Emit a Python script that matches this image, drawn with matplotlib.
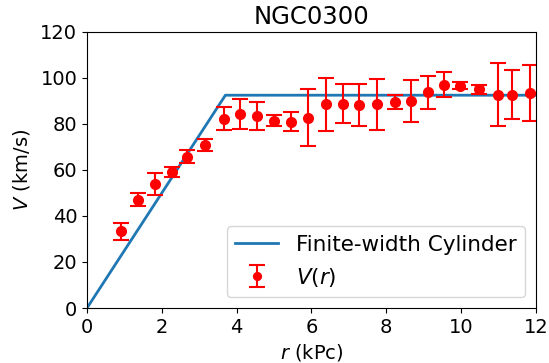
import matplotlib
matplotlib.use("Agg")
import matplotlib.pyplot as plt

# Observed rotation curve
r_obs = [0.90, 1.37, 1.81, 2.28, 2.68, 3.16, 3.65, 4.08, 4.55, 5.00, 5.45, 5.91,
         6.38, 6.84, 7.28, 7.75, 8.23, 8.66, 9.12, 9.55, 9.98, 10.49, 11.00, 11.35, 11.85]
v_obs = [33.3, 47.0, 54.0, 59.2, 65.8, 70.8, 82.3, 84.5, 83.5, 81.5, 81.0, 82.8,
         88.5, 88.8, 88.3, 88.5, 89.5, 90.0, 93.8, 97.0, 96.7, 95.0, 92.8, 92.8, 93.5]
v_err = [3.8, 2.8, 4.7, 2.2, 2.7, 2.5, 4.9, 6.5, 6.2, 2.5, 4.0, 12.4,
         11.6, 8.4, 9.0, 11.0, 3.0, 9.3, 7.2, 5.4, 1.6, 2.1, 13.8, 10.7, 12.2]

# Model curve
r_model = [0.0, 3.7, 12.0]
v_model = [0.0, 92.5, 92.5]

plt.rcParams['font.size'] = 14
fig = plt.figure(figsize=(5.49, 3.63), dpi=100)
ax = fig.add_axes([0.1585, 0.1515, 0.8175, 0.7605])

ax.plot(r_model, v_model, color='#1f77b4', lw=2, label='Finite-width Cylinder')
ax.errorbar(r_obs, v_obs, yerr=v_err, fmt='o', color='red', ms=7,
            elinewidth=1.5, capsize=6, capthick=1.5, label='$V(r)$')

ax.set_xlim(0, 12)
ax.set_ylim(0, 120)
ax.set_xticks(range(0, 13, 2))
ax.set_yticks(range(0, 121, 20))
ax.set_title('NGC0300', fontsize=17.5, pad=6)
ax.set_xlabel('$r$ (kPc)')
ax.set_ylabel('$V$ (km/s)', labelpad=6)
ax.legend(loc='lower right', fontsize=15.5, markerscale=0.8)

fig.savefig('out.png', dpi=100)
